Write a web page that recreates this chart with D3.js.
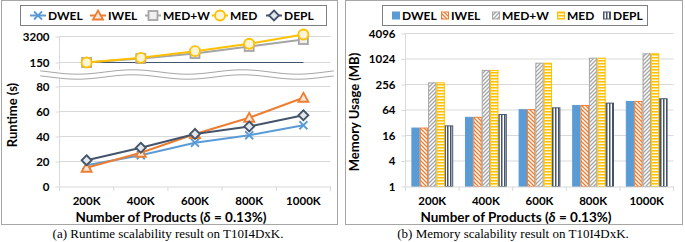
<!DOCTYPE html>
<html>
<head>
<meta charset="utf-8">
<script src="https://cdn.jsdelivr.net/npm/d3@7"></script>
<style>
  body { margin: 0; background: white; }
  text { font-family: Lato, "Open Sans", sans-serif; }
  .tick text { font-weight: bold; font-size: 11.5px; fill: #000; }
</style>
</head>
<body>
<div id="chart"></div>
<script>
// data
var products = ["200K", "400K", "600K", "800K", "1000K"];
var seriesNames = ["DWEL", "IWEL", "MED+W", "MED", "DEPL"];
var colors = ["#5B9BD5", "#ED7D31", "#A5A5A5", "#FFC000", "#44546A"];

// runtime (s)
var rtDWEL = [17, 25, 35, 41, 49];
var rtIWEL = [15, 27, 42, 55, 71];
var rtDEPL = [21, 31, 42, 48, 57];
var rtMEDW = [150, 240, 430, 990, 2250];
var rtMED = [150, 260, 570, 1360, 4050];
var rtLowTicks = [0, 20, 40, 60, 80];
var rtHighTicks = [150, 3200];

// memory (MB)
var memDWEL = [24, 43, 65, 82, 102];
var memIWEL = [24, 43, 65, 82, 102];
var memMEDW = [280, 550, 815, 1070, 1360];
var memMED = [280, 550, 815, 1070, 1360];
var memDEPL = [27, 50, 72, 93, 118];
var memTicks = [1, 4, 16, 64, 256, 1024, 4096];

function main() {
    var svg = d3.select("#chart").append("svg")
        .attr("width", 685)
        .attr("height", 242);

    var defs = svg.append("defs");
    // bar patterns
    var p1 = defs.append("pattern").attr("id", "pIWEL").attr("patternUnits", "userSpaceOnUse")
        .attr("width", 4).attr("height", 4);
    p1.append("rect").attr("width", 4).attr("height", 4).attr("fill", "white");
    p1.append("path").attr("d", "M0,0 l4,4 M-1,3 l2,2 M3,-1 l2,2")
        .attr("stroke", colors[1]).attr("stroke-width", 1.3);

    var p2 = defs.append("pattern").attr("id", "pMEDW").attr("patternUnits", "userSpaceOnUse")
        .attr("width", 4).attr("height", 4);
    p2.append("rect").attr("width", 4).attr("height", 4).attr("fill", "white");
    p2.append("path").attr("d", "M0,4 l4,-4 M-1,1 l2,-2 M3,5 l2,-2")
        .attr("stroke", colors[2]).attr("stroke-width", 1.3);

    var p3 = defs.append("pattern").attr("id", "pMED").attr("patternUnits", "userSpaceOnUse")
        .attr("width", 3).attr("height", 3);
    p3.append("rect").attr("width", 3).attr("height", 3).attr("fill", "#fff8e0");
    p3.append("rect").attr("width", 3).attr("height", 1.5).attr("fill", colors[3]);

    var p4 = defs.append("pattern").attr("id", "pDEPL").attr("patternUnits", "userSpaceOnUse")
        .attr("width", 3).attr("height", 3);
    p4.append("rect").attr("width", 3).attr("height", 3).attr("fill", "white");
    p4.append("rect").attr("width", 1.5).attr("height", 3).attr("fill", colors[4]);

    var fills = [colors[0], "url(#pIWEL)", "url(#pMEDW)", "url(#pMED)", "url(#pDEPL)"];

    // ---------- (a) runtime ----------
    svg.append("rect")
        .attr("x", 1.5).attr("y", 0.5).attr("width", 336).attr("height", 224)
        .attr("fill", "none").attr("stroke", "#a6a6a6");

    var xA = d3.scaleBand().domain(products).range([59.5, 330.5]);
    var yLow = d3.scaleLinear().domain([0, 80]).range([186.5, 86.5]);
    var yHigh = d3.scaleLog().domain([150, 3200]).range([62.5, 36.5]);

    var gA = svg.append("g");

    // grid
    gA.selectAll(".gl").data(rtLowTicks.slice(1)).join("line")
        .attr("x1", 59.5).attr("x2", 330.5)
        .attr("y1", d => yLow(d)).attr("y2", d => yLow(d))
        .attr("stroke", "#d9d9d9");
    gA.selectAll(".gh").data(rtHighTicks).join("line")
        .attr("class", "gh")
        .attr("x1", 59.5).attr("x2", 330.5)
        .attr("y1", d => yHigh(d)).attr("y2", d => yHigh(d))
        .attr("stroke", "#d9d9d9");

    var axA = gA.append("g")
        .attr("transform", "translate(0,186.5)")
        .call(d3.axisBottom(xA).tickSize(0).tickPadding(10));
    axA.select(".domain").attr("stroke", "#d9d9d9");
    gA.selectAll(".xt").data(d3.range(6)).join("line")
        .attr("x1", d => 59.5 + d * xA.step()).attr("x2", d => 59.5 + d * xA.step())
        .attr("y1", 186.5).attr("y2", 191)
        .attr("stroke", "#d9d9d9");

    var ayLow = gA.append("g").attr("transform", "translate(59.5,0)")
        .call(d3.axisLeft(yLow).tickValues(rtLowTicks).tickSize(4).tickPadding(6));
    ayLow.select(".domain").remove();
    ayLow.selectAll("line").attr("stroke", "#d9d9d9");
    var ayHigh = gA.append("g").attr("transform", "translate(59.5,0)")
        .call(d3.axisLeft(yHigh).tickValues(rtHighTicks).tickFormat(d3.format("d")).tickSize(4).tickPadding(6));
    ayHigh.select(".domain").remove();
    ayHigh.selectAll("line").attr("stroke", "#d9d9d9");
    gA.append("line").attr("x1", 59.5).attr("x2", 59.5).attr("y1", 36.5).attr("y2", 186.5)
        .attr("stroke", "#d9d9d9");

    // break
    gA.append("rect").attr("x", 40).attr("y", 70).attr("width", 296).attr("height", 9).attr("fill", "white");
    var wave = d3.line().curve(d3.curveBasis);
    [72, 77].forEach(function(base) {
        gA.append("path")
            .attr("d", wave(d3.range(40, 337, 3).map(x => [x, base + 2.2 * Math.sin((x - 50) / 110 * 2 * Math.PI)])))
            .attr("fill", "none").attr("stroke", "#a6a6a6").attr("stroke-width", 1);
    });

    // baseline at 150
    gA.append("line")
        .attr("x1", xA(products[0]) + xA.bandwidth() / 2)
        .attr("x2", xA(products[4]) + xA.bandwidth() / 2)
        .attr("y1", yHigh(150)).attr("y2", yHigh(150))
        .attr("stroke", colors[4]).attr("stroke-width", 1.2);

    var cx = d => xA(d) + xA.bandwidth() / 2;
    var lineSeries = [
        {name: "DWEL", vals: rtDWEL, y: yLow, c: colors[0], m: "x"},
        {name: "IWEL", vals: rtIWEL, y: yLow, c: colors[1], m: "tri"},
        {name: "DEPL", vals: rtDEPL, y: yLow, c: colors[4], m: "dia"},
        {name: "MED+W", vals: rtMEDW, y: yHigh, c: colors[2], m: "sq"},
        {name: "MED", vals: rtMED, y: yHigh, c: colors[3], m: "circ"}
    ];

    function marker(g, m, c, x, y) {
        if (m == "x") {
            g.append("path").attr("d", "M" + (x - 4) + "," + (y - 4) + "l8,8M" + (x - 4) + "," + (y + 4) + "l8,-8")
                .attr("stroke", c).attr("stroke-width", 1.8).attr("fill", "none");
        } else if (m == "tri") {
            g.append("path").attr("d", "M" + x + "," + (y - 5) + "L" + (x + 5) + "," + (y + 4) + "L" + (x - 5) + "," + (y + 4) + "Z")
                .attr("stroke", c).attr("stroke-width", 1.8).attr("fill", "#fde7d8");
        } else if (m == "dia") {
            g.append("path").attr("d", "M" + x + "," + (y - 5) + "L" + (x + 5) + "," + y + "L" + x + "," + (y + 5) + "L" + (x - 5) + "," + y + "Z")
                .attr("stroke", c).attr("stroke-width", 1.8).attr("fill", "#e4e7ec");
        } else if (m == "sq") {
            g.append("rect").attr("x", x - 4.5).attr("y", y - 4.5).attr("width", 9).attr("height", 9)
                .attr("stroke", c).attr("stroke-width", 1.8).attr("fill", "#f0f0f0");
        } else {
            g.append("circle").attr("cx", x).attr("cy", y).attr("r", 5)
                .attr("stroke", c).attr("stroke-width", 1.8).attr("fill", "#fff4d6");
        }
    }

    lineSeries.forEach(function(s) {
        var ln = d3.line().x((d, i) => cx(products[i])).y(d => s.y(d));
        gA.append("path").attr("d", ln(s.vals))
            .attr("fill", "none").attr("stroke", s.c).attr("stroke-width", 2);
        var mg = gA.append("g");
        s.vals.forEach(function(v, i) { marker(mg, s.m, s.c, cx(products[i]), s.y(v)); });
    });

    // legend (a)
    var legA = svg.append("g");
    legA.append("rect").attr("x", 20.5).attr("y", 5.5).attr("width", 306).attr("height", 20)
        .attr("fill", "white").attr("stroke", "#7f7f7f");
    var legAx = [30, 90, 145, 212, 266];
    var markers = ["x", "tri", "sq", "circ", "dia"];
    seriesNames.forEach(function(n, i) {
        var x0 = legAx[i];
        legA.append("line").attr("x1", x0).attr("x2", x0 + 16).attr("y1", 15.5).attr("y2", 15.5)
            .attr("stroke", colors[i]).attr("stroke-width", 2);
        marker(legA, markers[i], colors[i], x0 + 8, 15.5);
        legA.append("text").attr("x", x0 + 18).attr("y", 20)
            .attr("font-size", 12).attr("font-weight", "bold").text(n);
    });

    svg.append("text").attr("transform", "translate(17,115) rotate(-90)")
        .attr("text-anchor", "middle").attr("font-size", 13).attr("font-weight", "bold")
        .text("Runtime (s)");
    var xtA = svg.append("text").attr("x", 171).attr("y", 221.5)
        .attr("text-anchor", "middle").attr("font-size", 13.5).attr("font-weight", "bold");
    xtA.append("tspan").text("Number of Products (");
    xtA.append("tspan").attr("font-style", "italic").text("δ");
    xtA.append("tspan").text(" = 0.13%)");

    svg.append("text").attr("x", 168).attr("y", 238)
        .attr("text-anchor", "middle").attr("font-size", 13)
        .style("font-family", "'Liberation Serif', serif")
        .text("(a) Runtime scalability result on T10I4DxK.");

    // ---------- (b) memory ----------
    svg.append("rect")
        .attr("x", 345.5).attr("y", 0.5).attr("width", 337).attr("height", 224)
        .attr("fill", "none").attr("stroke", "#a6a6a6");

    var xB = d3.scaleBand().domain(products).range([405.5, 673.5]).paddingInner(0.22).paddingOuter(0.11);
    var xSub = d3.scaleBand().domain(seriesNames).range([0, xB.bandwidth()]);
    var yB = d3.scaleLog().base(2).domain([1, 4096]).range([186.5, 33.5]);

    var gB = svg.append("g");
    gB.selectAll(".gb").data(memTicks.slice(1)).join("line")
        .attr("x1", 405.5).attr("x2", 673.5)
        .attr("y1", d => yB(d)).attr("y2", d => yB(d))
        .attr("stroke", "#d9d9d9");
    gB.append("line").attr("x1", 405.5).attr("x2", 405.5).attr("y1", 33.5).attr("y2", 186.5)
        .attr("stroke", "#d9d9d9");

    var ayB = gB.append("g").attr("transform", "translate(405.5,0)")
        .call(d3.axisLeft(yB).tickValues(memTicks).tickFormat(d3.format("d")).tickSize(4).tickPadding(6));
    ayB.select(".domain").remove();
    ayB.selectAll("line").attr("stroke", "#d9d9d9");

    var memData = [memDWEL, memIWEL, memMEDW, memMED, memDEPL];
    memData.forEach(function(vals, si) {
        gB.append("g").selectAll("rect").data(vals).join("rect")
            .attr("x", (d, i) => xB(products[i]) + xSub(seriesNames[si]) + 0.5)
            .attr("y", d => yB(d))
            .attr("width", xSub.bandwidth() - 1)
            .attr("height", d => yB(1) - yB(d))
            .attr("fill", fills[si])
            .attr("stroke", colors[si]).attr("stroke-width", 1);
    });

    var axB = gB.append("g")
        .attr("transform", "translate(0,186.5)")
        .call(d3.axisBottom(xB).tickSize(0).tickPadding(10));
    axB.select(".domain").attr("stroke", "#d9d9d9");
    gB.selectAll(".xtb").data(d3.range(6)).join("line")
        .attr("x1", d => 405.5 + d * xB.step()).attr("x2", d => 405.5 + d * xB.step())
        .attr("y1", 186.5).attr("y2", 191)
        .attr("stroke", "#d9d9d9");

    // legend (b)
    var legB = svg.append("g");
    legB.append("rect").attr("x", 382.5).attr("y", 5.5).attr("width", 265).attr("height", 20)
        .attr("fill", "white").attr("stroke", "#7f7f7f");
    var legBx = [392, 441, 492, 557, 603];
    seriesNames.forEach(function(n, i) {
        var x0 = legBx[i];
        legB.append("rect").attr("x", x0 + 0.5).attr("y", 12).attr("width", 7).attr("height", 7)
            .attr("fill", fills[i]).attr("stroke", colors[i]);
        legB.append("text").attr("x", x0 + 10).attr("y", 20)
            .attr("font-size", 12).attr("font-weight", "bold").text(n);
    });

    svg.append("text").attr("transform", "translate(359,112) rotate(-90)")
        .attr("text-anchor", "middle").attr("font-size", 13).attr("font-weight", "bold")
        .text("Memory Usage (MB)");
    var xtB = svg.append("text").attr("x", 516).attr("y", 221.5)
        .attr("text-anchor", "middle").attr("font-size", 13.5).attr("font-weight", "bold");
    xtB.append("tspan").text("Number of Products (");
    xtB.append("tspan").attr("font-style", "italic").text("δ");
    xtB.append("tspan").text(" = 0.13%)");

    svg.append("text").attr("x", 513).attr("y", 238)
        .attr("text-anchor", "middle").attr("font-size", 13)
        .style("font-family", "'Liberation Serif', serif")
        .text("(b) Memory scalability result on T10I4DxK.");
}
main();
</script>
</body>
</html>
